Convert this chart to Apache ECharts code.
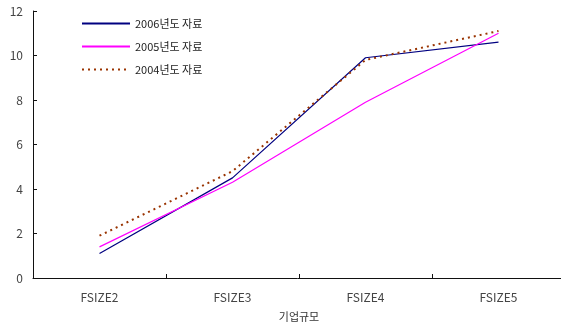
<!DOCTYPE html>
<html>
<head>
<meta charset="utf-8">
<script src="https://cdn.jsdelivr.net/npm/echarts@6/dist/echarts.min.js"></script>
<style>
  html, body { margin: 0; padding: 0; background: #fff; }
  #chart { width: 561px; height: 327px; }
</style>
</head>
<body>
<div id="chart"></div>
<script>
const categories = ["FSIZE2", "FSIZE3", "FSIZE4", "FSIZE5"];
const seriesNames = ["2006년도 자료", "2005년도 자료", "2004년도 자료"];
const data2006 = [1.1, 4.5, 9.9, 10.6];
const data2005 = [1.4, 4.3, 7.9, 11.0];
const data2004 = [1.9, 4.8, 9.8, 11.1];

const font = "'Noto Sans CJK KR', 'DejaVu Sans', sans-serif";
const chart = echarts.init(document.getElementById("chart"));

chart.setOption({
  animation: false,
  backgroundColor: "#fff",
  textStyle: { fontFamily: font },
  grid: { left: 33, top: 11, width: 532, height: 267, outerBoundsMode: "none", containLabel: false },
  legend: {
    orient: "vertical",
    left: 76,
    top: 13,
    itemGap: 12,
    itemWidth: 48,
    itemHeight: 13,
    itemStyle: { opacity: 0 },
    textStyle: { fontSize: 11, color: "#222", fontFamily: font },
    data: seriesNames,
  },
  xAxis: {
    type: "category",
    data: categories,
    boundaryGap: true,
    name: "기업규모",
    nameLocation: "middle",
    nameGap: 33,
    nameTextStyle: { fontSize: 11, color: "#333" },
    axisLine: { show: true, lineStyle: { color: "#111", width: 1 } },
    axisTick: { show: true, inside: true, length: 4, alignWithLabel: false, lineStyle: { color: "#111" } },
    axisLabel: { fontSize: 12, color: "#444", margin: 13 },
    splitLine: { show: false },
  },
  yAxis: {
    type: "value",
    min: 0,
    max: 12,
    interval: 2,
    axisLine: { show: true, lineStyle: { color: "#111", width: 1 } },
    axisTick: { show: true, inside: true, length: 4, lineStyle: { color: "#111" } },
    axisLabel: { fontSize: 12, color: "#444", margin: 10 },
    splitLine: { show: false },
  },
  series: [
    {
      name: seriesNames[0],
      type: "line",
      data: data2006,
      symbol: "none",
      color: "#000080",
      lineStyle: { color: "#000080", width: 1.2 },
    },
    {
      name: seriesNames[1],
      type: "line",
      data: data2005,
      symbol: "none",
      color: "#ff00ff",
      lineStyle: { color: "#ff00ff", width: 1.2 },
    },
    {
      name: seriesNames[2],
      type: "line",
      data: data2004,
      symbol: "none",
      color: "#993300",
      lineStyle: { color: "#993300", width: 2, type: [2, 4] },
    },
  ],
});
</script>
</body>
</html>
